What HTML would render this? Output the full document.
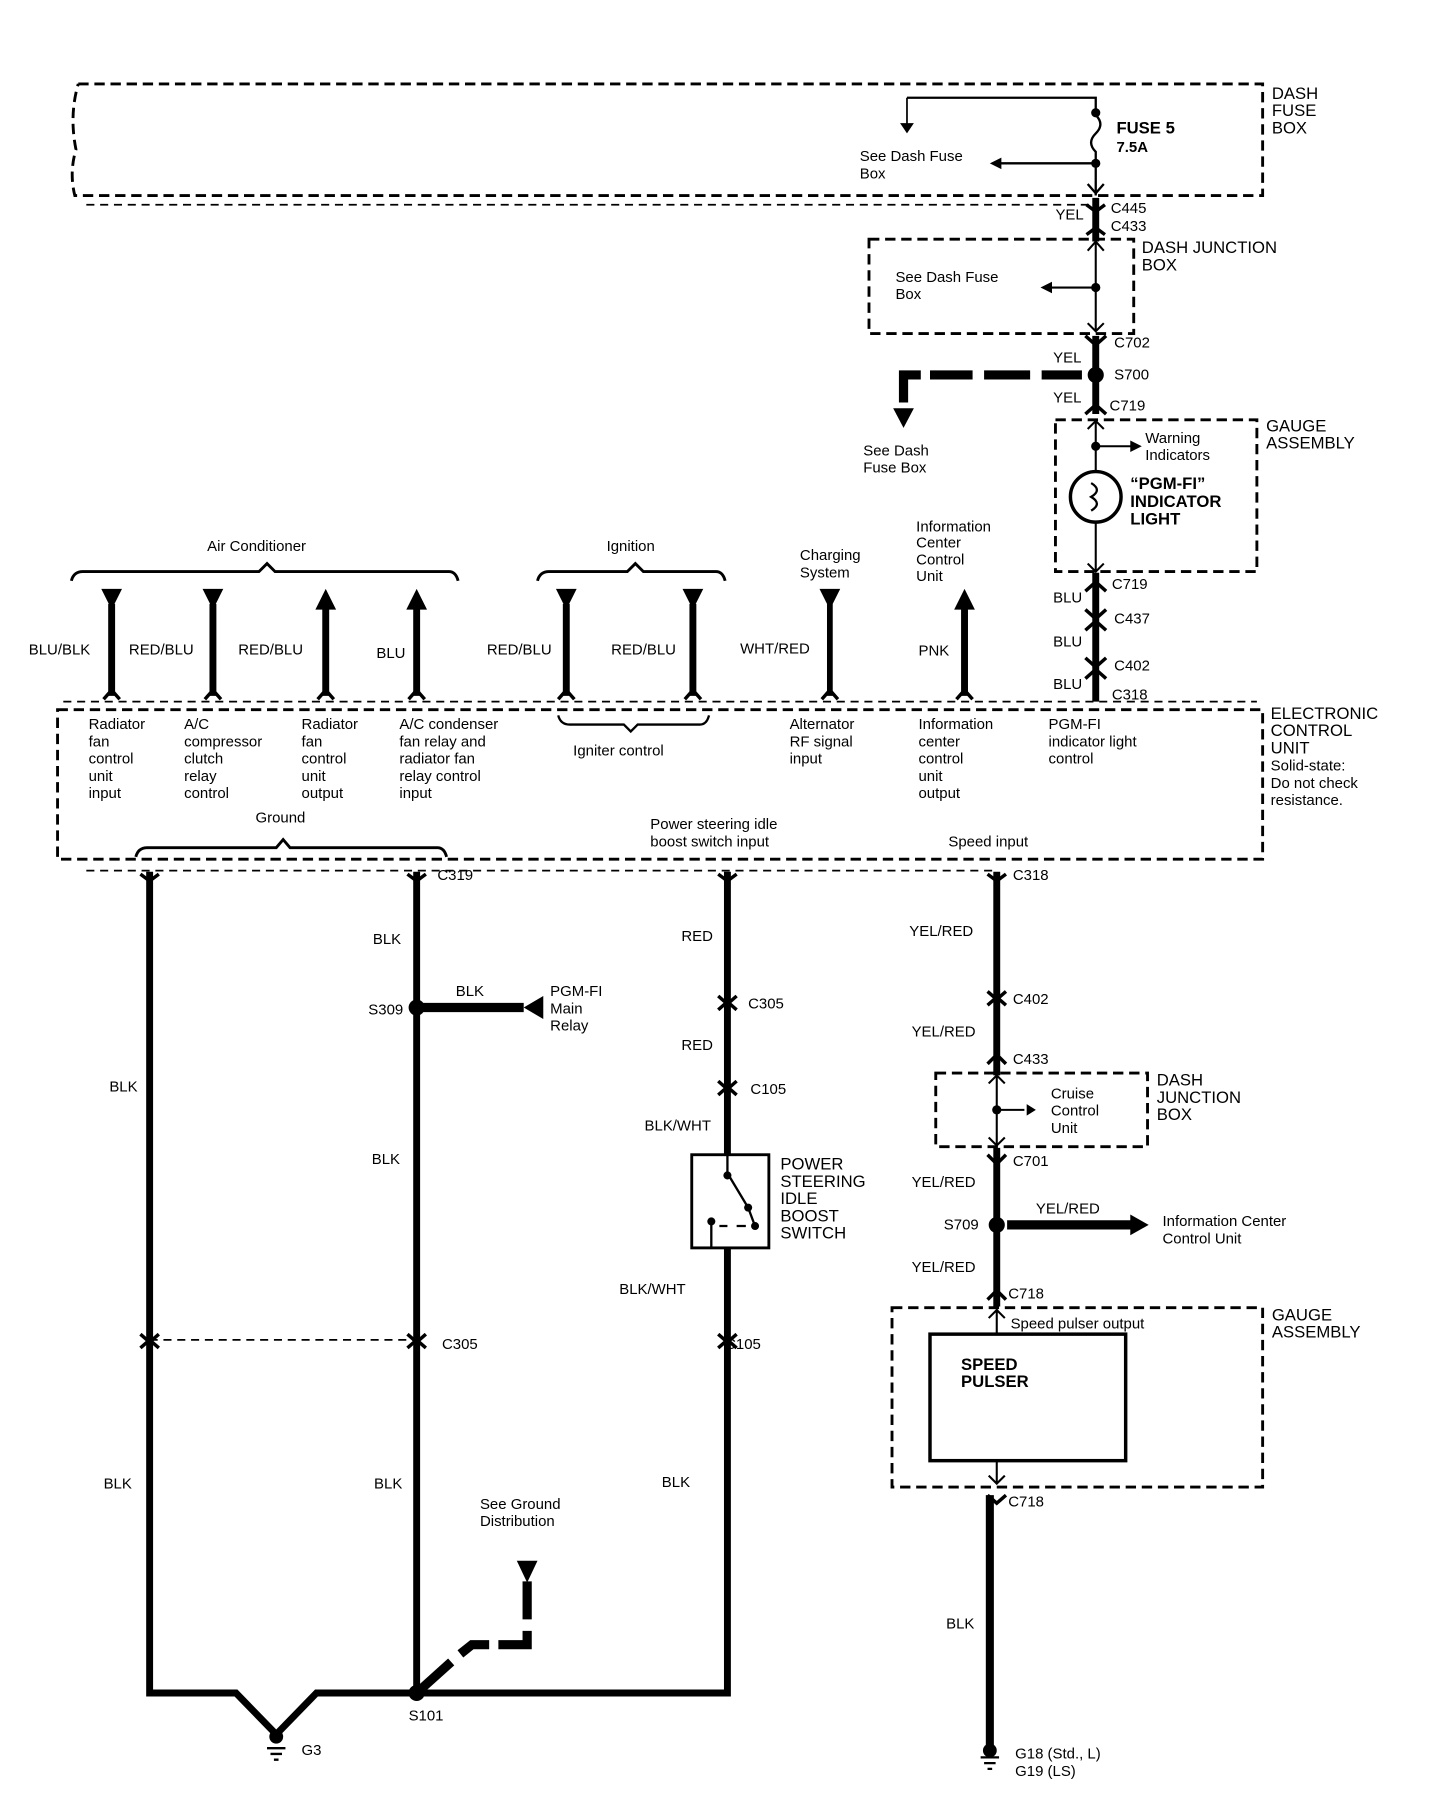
<!DOCTYPE html>
<html><head><meta charset="utf-8"><style>
html,body{margin:0;padding:0;background:#fff;}
svg{display:block;}
text{font-family:"Liberation Sans",sans-serif;font-size:13px;fill:#000;}
.b{font-weight:bold;}
.big{font-size:14.5px;}
</style></head><body>
<svg width="1456" height="1808" viewBox="0 0 1265 1572" preserveAspectRatio="none" xmlns="http://www.w3.org/2000/svg">
<g fill="none" stroke="#000">
<!-- Dash fuse box -->
<path d="M68 73 L1097 73 L1097 170 L65 170 Q60 150 66 130 Q60 100 68 73" stroke-width="2.5" stroke-dasharray="9 5"/>
<path d="M75 178 L950 178" stroke-width="1.5" stroke-dasharray="7 5"/>
<path d="M788 85 L952 85 L952 100 Q960 108 952 116 Q944 124 952 132 L952 170" stroke-width="2"/>
<path d="M788 85 L788 110" stroke-width="1.5"/>
<path d="M952 142 L868 142" stroke-width="2"/>
<path d="M945 160 L952 168 L959 160" stroke-width="2"/>
<!-- C445/C433 -->
<path d="M952 172 L952 210" stroke-width="6"/>
<path d="M944 178 L952 184 L960 178 M944 204 L952 198 L960 204" stroke-width="3"/>
<!-- dash junction box -->
<rect x="755" y="208" width="230" height="82" stroke-width="2.5" stroke-dasharray="9 5"/>
<path d="M952 210 L952 288 M952 250 L912 250 M945 218 L952 210 L959 218 M945 281 L952 288 L959 281" stroke-width="1.8"/>
<!-- C702 S700 C719 -->
<path d="M952 292 L952 360" stroke-width="6"/>
<path d="M943 292 L952 300 L961 292 M943 360 L952 352 L961 360" stroke-width="3"/>
<path d="M940 326 L905 326 M895 326 L855 326 M845 326 L808 326 M800 326 L785 326 L785 350" stroke-width="8"/>
<!-- gauge assembly -->
<rect x="917" y="365" width="175" height="132" stroke-width="2.5" stroke-dasharray="9 5"/>
<path d="M952 365 L952 410 M952 454 L952 497 M952 388 L985 388 M945 373 L952 366 L959 373 M945 490 L952 497 L959 490" stroke-width="1.8"/>
<circle cx="952" cy="432" r="22" stroke-width="3"/>
<path d="M948 420 Q958 426 948 432 Q958 438 948 444" stroke-width="2"/>
<!-- BLU wire -->
<path d="M952 498 L952 610" stroke-width="6"/>
<path d="M943 514 L952 506 L961 514 M943 530 L952 538 L961 530 M943 548 L952 540 L961 548 M943 572 L952 580 L961 572 M943 590 L952 582 L961 590" stroke-width="3"/>
<!-- ECU -->
<path d="M55 610 L1092 610" stroke-width="1.5" stroke-dasharray="7 5"/>
<rect x="50" y="617" width="1047" height="130" stroke-width="2.5" stroke-dasharray="9 5"/>
<path d="M75 757 L866 757" stroke-width="1.5" stroke-dasharray="7 5"/>
<!-- top wires -->
<path d="M97 525 L97 605 M185 525 L185 605 M283 525 L283 605 M362 525 L362 605 M492 525 L492 605 M602 525 L602 605 M838 525 L838 605" stroke-width="6"/>
<path d="M721 525 L721 605" stroke-width="5"/>
<path d="M90 608 L97 600 L104 608 M178 608 L185 600 L192 608 M276 608 L283 600 L290 608 M355 608 L362 600 L369 608 M485 608 L492 600 L499 608 M595 608 L602 600 L609 608 M714 608 L721 600 L728 608 M831 608 L838 600 L845 608" stroke-width="3"/>
<!-- braces -->
<path d="M62 505 Q64 497 72 497 L225 497 L232 490 L239 497 L390 497 Q396 497 398 505" stroke-width="2.5"/>
<path d="M467 505 Q469 497 477 497 L545 497 L552 490 L559 497 L622 497 Q628 497 630 505" stroke-width="2.5"/>
<path d="M485 622 Q487 630 495 630 L542 630 L548 636 L554 630 L608 630 Q614 630 616 622" stroke-width="2"/>
<path d="M118 745 Q120 737 128 737 L240 737 L246 730 L252 737 L380 737 Q386 737 388 745" stroke-width="2.5"/>
<!-- bottom-left wires -->
<path d="M130 758 L130 1472 L205 1472 L240 1508 L275 1472 L632 1472 L632 1085" stroke-width="6"/>
<path d="M362 758 L362 1472" stroke-width="6"/>
<path d="M632 758 L632 1004" stroke-width="6"/>
<path d="M122 760 L130 766 L138 760 M354 760 L362 766 L370 760 M624 760 L632 766 L640 760 M858 760 L866 766 L874 760" stroke-width="3"/>
<path d="M130 1165 L362 1165" stroke-width="1.5" stroke-dasharray="7 5"/>
<path d="M122 1160 L130 1167 L138 1160 M122 1172 L130 1165 L138 1172 M354 1160 L362 1167 L370 1160 M354 1172 L362 1165 L370 1172 M624 1160 L632 1167 L640 1160 M624 1172 L632 1165 L640 1172" stroke-width="3"/>
<path d="M624 866 L632 873 L640 866 M624 878 L632 871 L640 878 M624 940 L632 947 L640 940 M624 952 L632 945 L640 952" stroke-width="3"/>
<path d="M362 876 L455 876" stroke-width="8"/>
<path d="M362 1472 L392 1445 M400 1438 L410 1430 L425 1430 M433 1430 L458 1430 L458 1418 M458 1408 L458 1375" stroke-width="8"/>
<!-- power steering switch -->
<rect x="601" y="1004" width="67" height="81" stroke-width="2.5"/>
<path d="M632 1004 L632 1020 L650 1050 L656 1066 M618 1062 L618 1085" stroke-width="2"/>
<path d="M625 1066 L632 1066 M640 1066 L648 1066" stroke-width="2"/>
<!-- right speed wire -->
<path d="M866 758 L866 935 M866 998 L866 1136" stroke-width="6"/>
<path d="M858 862 L866 869 L874 862 M858 874 L866 867 L874 874 M858 925 L866 917 L874 925 M858 1004 L866 1012 L874 1004 M858 1130 L866 1122 L874 1130" stroke-width="3"/>
<rect x="813" y="933" width="184" height="64" stroke-width="2.5" stroke-dasharray="9 5"/>
<path d="M866 935 L866 996 M866 965 L890 965 M859 942 L866 935 L873 942 M859 989 L866 996 L873 989" stroke-width="1.8"/>
<path d="M875 1065 L985 1065" stroke-width="8"/>
<rect x="775" y="1137" width="322" height="156" stroke-width="2.5" stroke-dasharray="9 5"/>
<path d="M866 1137 L866 1160 M859 1146 L866 1139 L873 1146 M866 1270 L866 1290 M859 1283 L866 1290 L873 1283" stroke-width="1.8"/>
<rect x="808" y="1160" width="170" height="110" stroke-width="3"/>
<path d="M858 1300 L866 1307 L874 1300" stroke-width="3"/>
<path d="M860 1300 L860 1520" stroke-width="7"/>
<path d="M852 1528 L868 1528 M855 1533 L865 1533 M858 1538 L862 1538 M232 1520 L248 1520 M235 1525 L245 1525 M238 1530 L242 1530" stroke-width="2"/>
</g>
<g fill="#000">
<circle cx="952" cy="98" r="4"/><circle cx="952" cy="142" r="4"/>
<circle cx="952" cy="250" r="4"/><circle cx="952" cy="388" r="4"/>
<circle cx="952" cy="326" r="7"/>
<circle cx="362" cy="876" r="7"/><circle cx="362" cy="1472" r="7"/>
<circle cx="866" cy="1065" r="7"/><circle cx="866" cy="965" r="4"/>
<circle cx="240" cy="1510" r="6"/><circle cx="860" cy="1522" r="6"/>
<circle cx="632" cy="1022" r="3.5"/><circle cx="650" cy="1050" r="3.5"/><circle cx="656" cy="1066" r="3.5"/><circle cx="618" cy="1062" r="3.5"/>
<polygon points="782,107 794,107 788,116"/>
<polygon points="860,142 870,137 870,147"/>
<polygon points="904,250 914,245 914,255"/>
<polygon points="776,355 794,355 785,372"/>
<polygon points="992,388 982,383 982,393"/>
<polygon points="88,512 106,512 97,530"/><polygon points="176,512 194,512 185,530"/>
<polygon points="274,530 292,530 283,512"/><polygon points="353,530 371,530 362,512"/>
<polygon points="483,512 501,512 492,530"/><polygon points="593,512 611,512 602,530"/>
<polygon points="712,512 730,512 721,530"/><polygon points="829,530 847,530 838,512"/>
<polygon points="472,866 472,886 455,876"/>
<polygon points="449,1357 467,1357 458,1376"/>
<polygon points="982,1056 998,1065 982,1074"/>
<polygon points="892,960 892,970 900,965"/>
</g>
<g>
<text x="747" y="140">See Dash Fuse</text><text x="747" y="155">Box</text>
<text x="970" y="116" class="b big">FUSE 5</text><text x="970" y="132" class="b">7.5A</text>
<text x="1105" y="86" class="big">DASH</text><text x="1105" y="101" class="big">FUSE</text><text x="1105" y="116" class="big">BOX</text>
<text x="917" y="191">YEL</text><text x="965" y="185">C445</text><text x="965" y="201">C433</text>
<text x="778" y="245">See Dash Fuse</text><text x="778" y="260">Box</text>
<text x="992" y="220" class="big">DASH JUNCTION</text><text x="992" y="235" class="big">BOX</text>
<text x="915" y="315">YEL</text><text x="968" y="302">C702</text><text x="968" y="330">S700</text>
<text x="915" y="350">YEL</text><text x="964" y="357">C719</text>
<text x="750" y="396">See Dash</text><text x="750" y="411">Fuse Box</text>
<text x="995" y="385">Warning</text><text x="995" y="400">Indicators</text>
<text x="982" y="425" class="b big">“PGM-FI”</text><text x="982" y="441" class="b big">INDICATOR</text><text x="982" y="456" class="b big">LIGHT</text>
<text x="1100" y="375" class="big">GAUGE</text><text x="1100" y="390" class="big">ASSEMBLY</text>
<text x="915" y="524">BLU</text><text x="966" y="512">C719</text><text x="968" y="542">C437</text>
<text x="915" y="562">BLU</text><text x="968" y="583">C402</text><text x="915" y="599">BLU</text><text x="966" y="608">C318</text>
<text x="180" y="479">Air Conditioner</text><text x="527" y="479">Ignition</text>
<text x="695" y="487">Charging</text><text x="695" y="502">System</text>
<text x="796" y="462">Information</text><text x="796" y="476">Center</text><text x="796" y="491">Control</text><text x="796" y="505">Unit</text>
<text x="25" y="569">BLU/BLK</text><text x="112" y="569">RED/BLU</text><text x="207" y="569">RED/BLU</text>
<text x="327" y="572">BLU</text><text x="423" y="569">RED/BLU</text><text x="531" y="569">RED/BLU</text>
<text x="643" y="568">WHT/RED</text><text x="798" y="570">PNK</text>
<text x="77" y="634">Radiator</text><text x="77" y="649">fan</text><text x="77" y="664">control</text><text x="77" y="679">unit</text><text x="77" y="694">input</text>
<text x="160" y="634">A/C</text><text x="160" y="649">compressor</text><text x="160" y="664">clutch</text><text x="160" y="679">relay</text><text x="160" y="694">control</text>
<text x="262" y="634">Radiator</text><text x="262" y="649">fan</text><text x="262" y="664">control</text><text x="262" y="679">unit</text><text x="262" y="694">output</text>
<text x="347" y="634">A/C condenser</text><text x="347" y="649">fan relay and</text><text x="347" y="664">radiator fan</text><text x="347" y="679">relay control</text><text x="347" y="694">input</text>
<text x="498" y="657">Igniter control</text>
<text x="686" y="634">Alternator</text><text x="686" y="649">RF signal</text><text x="686" y="664">input</text>
<text x="798" y="634">Information</text><text x="798" y="649">center</text><text x="798" y="664">control</text><text x="798" y="679">unit</text><text x="798" y="694">output</text>
<text x="911" y="634">PGM-FI</text><text x="911" y="649">indicator light</text><text x="911" y="664">control</text>
<text x="1104" y="625" class="big">ELECTRONIC</text><text x="1104" y="640" class="big">CONTROL</text><text x="1104" y="655" class="big">UNIT</text>
<text x="1104" y="670">Solid-state:</text><text x="1104" y="685">Do not check</text><text x="1104" y="700">resistance.</text>
<text x="222" y="715">Ground</text>
<text x="565" y="721">Power steering idle</text><text x="565" y="736">boost switch input</text>
<text x="824" y="736">Speed input</text>
<text x="380" y="765">C319</text><text x="324" y="821">BLK</text><text x="396" y="866">BLK</text><text x="320" y="882">S309</text>
<text x="478" y="866">PGM-FI</text><text x="478" y="881">Main</text><text x="478" y="896">Relay</text>
<text x="95" y="949">BLK</text><text x="323" y="1012">BLK</text><text x="384" y="1173">C305</text>
<text x="90" y="1294">BLK</text><text x="325" y="1294">BLK</text>
<text x="417" y="1312">See Ground</text><text x="417" y="1327">Distribution</text>
<text x="355" y="1496">S101</text><text x="262" y="1526">G3</text>
<text x="592" y="818">RED</text><text x="650" y="877">C305</text><text x="592" y="913">RED</text><text x="652" y="951">C105</text>
<text x="560" y="983">BLK/WHT</text>
<text x="678" y="1017" class="big">POWER</text><text x="678" y="1032" class="big">STEERING</text><text x="678" y="1047" class="big">IDLE</text><text x="678" y="1062" class="big">BOOST</text><text x="678" y="1077" class="big">SWITCH</text>
<text x="538" y="1125">BLK/WHT</text><text x="630" y="1173">C105</text><text x="575" y="1293">BLK</text>
<text x="880" y="765">C318</text><text x="790" y="814">YEL/RED</text><text x="880" y="873">C402</text>
<text x="792" y="901">YEL/RED</text><text x="880" y="925">C433</text>
<text x="913" y="955">Cruise</text><text x="913" y="970">Control</text><text x="913" y="985">Unit</text>
<text x="1005" y="944" class="big">DASH</text><text x="1005" y="959" class="big">JUNCTION</text><text x="1005" y="974" class="big">BOX</text>
<text x="880" y="1014">C701</text><text x="792" y="1032">YEL/RED</text><text x="820" y="1069">S709</text>
<text x="900" y="1055">YEL/RED</text>
<text x="1010" y="1066">Information Center</text><text x="1010" y="1081">Control Unit</text>
<text x="792" y="1106">YEL/RED</text><text x="876" y="1129">C718</text>
<text x="878" y="1155">Speed pulser output</text>
<text x="835" y="1191" class="b big">SPEED</text><text x="835" y="1206" class="b big">PULSER</text>
<text x="1105" y="1148" class="big">GAUGE</text><text x="1105" y="1163" class="big">ASSEMBLY</text>
<text x="876" y="1310">C718</text><text x="822" y="1416">BLK</text>
<text x="882" y="1529">G18 (Std., L)</text><text x="882" y="1544">G19 (LS)</text>
</g>
</svg>
</body></html>
